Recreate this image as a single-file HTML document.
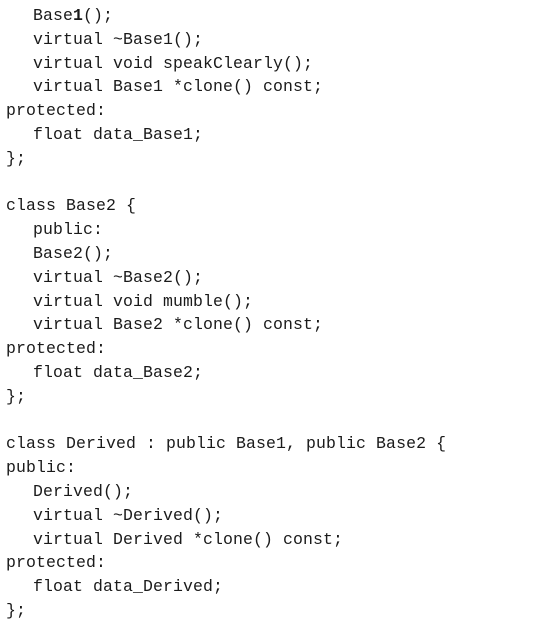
<!DOCTYPE html>
<html><head><meta charset="utf-8"><style>
html,body{margin:0;padding:0;background:#fff;width:540px;height:619px;overflow:hidden}
pre{position:absolute;left:6px;top:4px;margin:0;font-family:"Liberation Mono",monospace;font-size:16.5px;line-height:23.8px;color:#1a1a1a;letter-spacing:0.1px}
.i{padding-left:27px}
</style></head><body>
<pre><span class="i">Base<b>1</b>();</span>
<span class="i">virtual ~Base1();</span>
<span class="i">virtual void speakClearly();</span>
<span class="i">virtual Base1 *clone() const;</span>
protected:
<span class="i">float data_Base1;</span>
};

class Base2 {
<span class="i">public:</span>
<span class="i">Base2();</span>
<span class="i">virtual ~Base2();</span>
<span class="i">virtual void mumble();</span>
<span class="i">virtual Base2 *clone() const;</span>
protected:
<span class="i">float data_Base2;</span>
};

class Derived : public Base1, public Base2 {
public:
<span class="i">Derived();</span>
<span class="i">virtual ~Derived();</span>
<span class="i">virtual Derived *clone() const;</span>
protected:
<span class="i">float data_Derived;</span>
};</pre>
</body></html>
